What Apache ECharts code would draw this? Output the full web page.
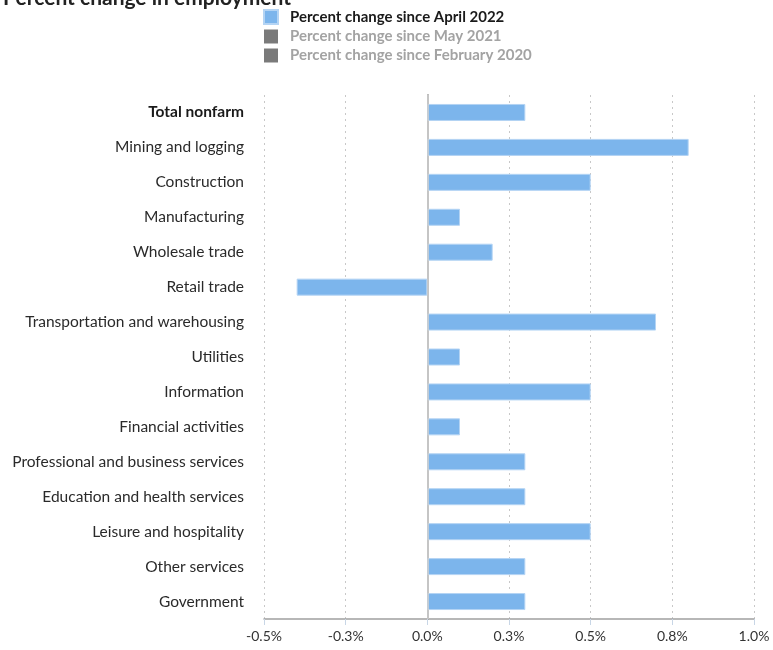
<!DOCTYPE html>
<html>
<head>
<meta charset="utf-8">
<script src="https://cdn.jsdelivr.net/npm/echarts@6/dist/echarts.min.js"></script>
<style>html,body{margin:0;padding:0;background:#fff}#c{width:773px;height:650px}</style>
</head>
<body>
<div id="c"></div>
<script>
const categories = ["Total nonfarm","Mining and logging","Construction","Manufacturing","Wholesale trade","Retail trade","Transportation and warehousing","Utilities","Information","Financial activities","Professional and business services","Education and health services","Leisure and hospitality","Other services","Government"];
const sinceApril2022 = [0.3,0.8,0.5,0.1,0.2,-0.4,0.7,0.1,0.5,0.1,0.3,0.3,0.5,0.3,0.3];
const seriesNames = ["Percent change since April 2022","Percent change since May 2021","Percent change since February 2020"];
const titleText = "Percent change in employment";

const font = "Lato, 'Open Sans', sans-serif";
const chart = echarts.init(document.getElementById('c'));
chart.setOption({
  animation: false,
  title: {text: titleText, left: -2, top: -17, textStyle: {fontFamily: font, fontSize: 21, fontWeight: 'bold', color: '#222'}},
  legend: {
    orient: 'vertical', left: 258, top: 4, itemWidth: 14, itemHeight: 14, itemGap: 4,
    icon: 'rect',
    data: seriesNames,
    selected: {[seriesNames[1]]: false, [seriesNames[2]]: false},
    inactiveColor: '#7a7a7a',
    formatter: function(n){ return n === seriesNames[0] ? '{a|' + n + '}' : '{b|' + n + '}'; },
    textStyle: {fontFamily: font, fontSize: 15, fontWeight: 'bold', padding: [0,0,0,7],
      rich: {a: {color: '#1a1a1a', fontFamily: font, fontSize: 15, fontWeight: 'bold', lineHeight: 15},
             b: {color: '#a3a3a3', fontFamily: font, fontSize: 15, fontWeight: 'bold', lineHeight: 15}}}
  },
  grid: {left: 264, right: 19, top: 95, bottom: 31},
  xAxis: {
    type: 'value', min: -0.5, max: 1.0, interval: 0.25,
    axisLine: {show: true, lineStyle: {color: '#a0a0a0', width: 1.5}},
    axisTick: {show: true, length: 6, lineStyle: {color: '#c8d6e6'}},
    splitLine: {show: true, lineStyle: {type: [2,4], color: '#c8c8c8'}},
    axisLabel: {formatter: v => v.toFixed(1) + '%', fontFamily: font, fontSize: 14, color: '#333', margin: 10}
  },
  yAxis: {
    type: 'category', data: categories, inverse: true,
    axisLine: {show: true, lineStyle: {color: '#a8a8a8', width: 2}},
    axisTick: {show: false},
    axisLabel: {fontFamily: font, fontSize: 15.5, color: '#2a2a2a', margin: 20,
      formatter: v => v === categories[0] ? '{b|' + v + '}' : v,
      rich: {b: {fontWeight: 'bold', fontFamily: font, fontSize: 15.5, color: '#1a1a1a'}}}
  },
  series: [
    {name: seriesNames[0], type: 'bar', data: sinceApril2022, barWidth: 17,
     itemStyle: {color: '#7cb5ec', borderColor: '#b4d4f4', borderWidth: 1},
     markLine: {silent: true, symbol: 'none', label: {show: false}, lineStyle: {color: '#cfcfcf', type: 'solid', width: 1.5}, data: [{xAxis: 0}]}},
    {name: seriesNames[1], type: 'bar', data: [], itemStyle: {color: '#7a7a7a'}},
    {name: seriesNames[2], type: 'bar', data: [], itemStyle: {color: '#7a7a7a'}}
  ]
});
</script>
</body>
</html>
